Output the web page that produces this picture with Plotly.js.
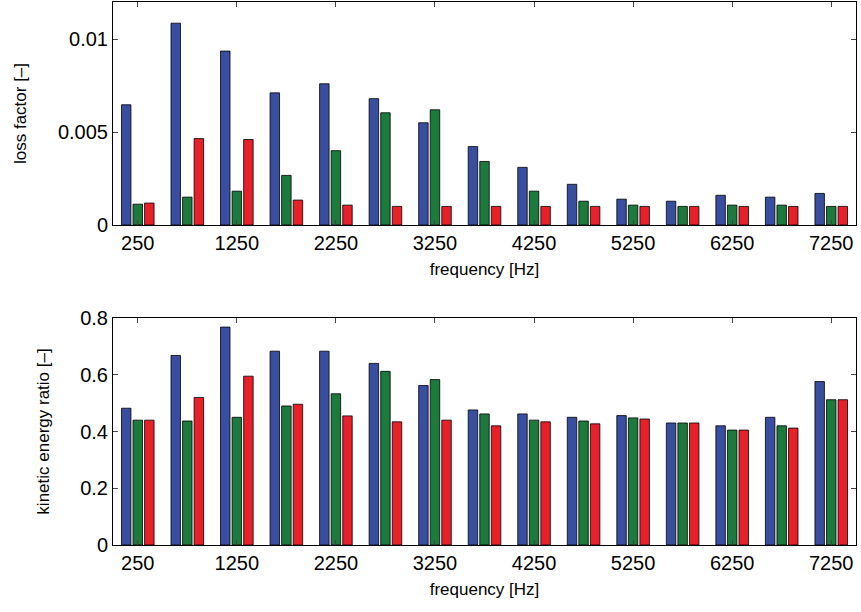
<!DOCTYPE html>
<html><head><meta charset="utf-8">
<script src="https://cdn.plot.ly/plotly-3.0.1.min.js"></script>
<style>body{margin:0}</style></head>
<body><div id="chart" style="width:861px;height:612px"></div>
<script>
var freqs = ['250','750','1250','1750','2250','2750','3250','3750','4250','4750','5250','5750','6250','6750','7250'];
var tickLabels = ['250','1250','2250','3250','4250','5250','6250','7250'];
var lossBlue  = [0.00647,0.01086,0.00936,0.00711,0.0076,0.0068,0.0055,0.00422,0.0031,0.00219,0.00139,0.00128,0.0016,0.0015,0.0017];
var lossGreen = [0.00112,0.0015,0.00182,0.00267,0.004,0.00604,0.0062,0.00342,0.00182,0.00128,0.00107,0.001,0.00107,0.00107,0.001];
var lossRed   = [0.00118,0.00465,0.0046,0.00134,0.00107,0.001,0.001,0.001,0.001,0.001,0.001,0.001,0.001,0.001,0.001];
var keBlue  = [0.482,0.668,0.768,0.683,0.683,0.64,0.562,0.476,0.462,0.45,0.456,0.43,0.42,0.45,0.576];
var keGreen = [0.44,0.437,0.45,0.49,0.533,0.612,0.583,0.462,0.44,0.437,0.448,0.43,0.405,0.42,0.512];
var keRed   = [0.44,0.52,0.595,0.496,0.455,0.434,0.44,0.42,0.434,0.427,0.444,0.43,0.405,0.412,0.512];

var colors = ['#3a4ea0','#1c7b3c','#e8202a'];
function bars(vals, ax){
  return vals.map(function(v,i){
    return {type:'bar', x:freqs, y:v, xaxis:'x'+ax, yaxis:'y'+ax, showlegend:false,
      marker:{color:colors[i], line:{color:'#000', width:0.8}}};
  });
}
var data = bars([lossBlue,lossGreen,lossRed],'').concat(bars([keBlue,keGreen,keRed],'2'));
var axFont = {family:'Liberation Sans, Arial', size:20, color:'#000'};
var titleFont = {family:'Liberation Sans, Arial', size:17, color:'#000'};
function xa(anchor){
  return {domain:[113/861,856/861], anchor:anchor, type:'category', range:[-0.5,14.5],
    tickmode:'array', tickvals:tickLabels, ticktext:tickLabels, ticks:'inside', ticklen:5,
    showline:true, mirror:'ticks', linecolor:'#000', linewidth:1, tickfont:axFont,
    title:{text:'frequency [Hz]', font:titleFont, standoff:10}};
}
var layout = {
  width:861, height:612, margin:{l:0,r:0,t:0,b:0}, paper_bgcolor:'#fff', plot_bgcolor:'#fff',
  barmode:'group', bargap:0.3, bargroupgap:0.18,
  xaxis:xa('y'), xaxis2:xa('y2'),
  yaxis:{domain:[387/612,610/612], anchor:'x', range:[0,0.012], tickvals:[0,0.005,0.01], ticktext:['0','0.005','0.01'],
    ticks:'inside', ticklen:5, showline:true, mirror:'ticks', linecolor:'#000', showgrid:false, zeroline:false,
    tickfont:axFont, title:{text:'loss factor [\u2013]', font:titleFont, standoff:26}},
  yaxis2:{domain:[67/612,294/612], anchor:'x2', range:[0,0.8], tickvals:[0,0.2,0.4,0.6,0.8], ticktext:['0','0.2','0.4','0.6','0.8'],
    ticks:'inside', ticklen:5, showline:true, mirror:'ticks', linecolor:'#000', showgrid:false, zeroline:false,
    tickfont:axFont, title:{text:'kinetic energy ratio [\u2013]', font:titleFont, standoff:26}}
};
Plotly.newPlot('chart', data, layout, {staticPlot:true});
</script></body></html>
